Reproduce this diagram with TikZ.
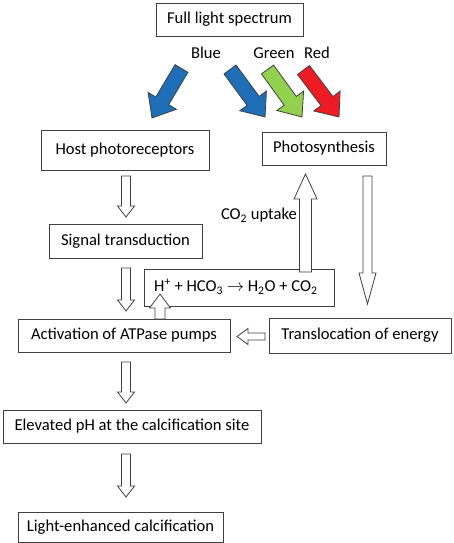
\documentclass[tikz,border=0pt]{standalone}
\usepackage{fontspec}
\setmainfont{Carlito}
\usepackage{tikz}
\usetikzlibrary{calc, positioning}
\definecolor{lineg}{RGB}{64,64,64}
\definecolor{lblue}{RGB}{30,110,184}
\definecolor{lgreen}{RGB}{146,208,80}
\definecolor{lred}{RGB}{237,28,36}
\tikzstyle{box}=[draw=lineg, line width=0.9pt, inner sep=0pt, font=\fontsize{16.6}{19}\selectfont]
\tikzstyle{lbl}=[inner sep=0pt, font=\fontsize{16.6}{19}\selectfont]
% block arrow: [fill] from, to, half shaft, half head, head length (in pt)
\newcommand{\blockarrow}[6][white]{%
\coordinate (ba-h) at ($(#3)!#6pt!(#2)$);
\draw[draw=lineg, line width=0.8pt, line join=miter, fill=#1] ($(#2)!#4pt!90:(#3)$) -- ($(ba-h)!#4pt!-90:(#2)$) -- ($(ba-h)!#5pt!-90:(#2)$) -- (#3) -- ($(ba-h)!#5pt!90:(#2)$) -- ($(ba-h)!#4pt!90:(#2)$) -- ($(#2)!#4pt!-90:(#3)$) -- cycle;}

\begin{document}
\begin{tikzpicture}[x=1pt, y=1pt]
\useasboundingbox (0,0) rectangle (454,-543);
% the boxes
\node[box, minimum width=147, minimum height=33] (full) at (229.5,-19.5) {Full light spectrum};
\node[box, minimum width=168, minimum height=40] (host) at (125,-150) {Host photoreceptors};
\node[box, minimum width=124, minimum height=33] (photo) at (324,-148.5) {Photosynthesis};
\node[box, minimum width=153, minimum height=34] (signal) at (125.5,-241) {Signal transduction};
\node[box, minimum width=190, minimum height=37] (react) at (239,-287.5) {};
\node[lbl, anchor=west] (eqn) at (154,-287) {H\textsuperscript{+} + HCO\textsubscript{3} $\rightarrow$ H\textsubscript{2}O + CO\textsubscript{2}};
\node[box, minimum width=212, minimum height=33] (atpase) at (124,-335.5) {Activation of ATPase pumps};
\node[box, minimum width=182, minimum height=35] (transl) at (360,-335.5) {Translocation of energy};
\node[box, minimum width=258, minimum height=33] (elev) at (132,-426.5) {Elevated pH at the calcification site};
\node[box, minimum width=205, minimum height=30] (calc) at (120.5,-527) {Light-enhanced calcification};
% the labels
\node[lbl] (blue) at (206,-53) {Blue};
\node[lbl] (green) at (274,-53) {Green};
\node[lbl] (red) at (317,-53) {Red};
\node[lbl, anchor=east] (uptake) at (297,-215) {CO\textsubscript{2} uptake};
% the ends of the arrows
\coordinate (b1s) at (181.5,-68.5); \coordinate (b1e) at (152,-118);
\coordinate (b2s) at (230,-69.5); \coordinate (b2e) at (265,-117);
\coordinate (b3s) at (267.5,-69.5); \coordinate (b3e) at (302,-117);
\coordinate (b4s) at (303.5,-70); \coordinate (b4e) at (339,-117);
\coordinate (a1s) at (126,-176); \coordinate (a1e) at (126,-217);
\coordinate (a2s) at (126,-268); \coordinate (a2e) at (126,-311);
\coordinate (a3s) at (126,-362); \coordinate (a3e) at (126,-403);
\coordinate (a4s) at (126,-454); \coordinate (a4e) at (126,-497);
\coordinate (a5s) at (160,-319); \coordinate (a5e) at (160,-294);
\coordinate (a6s) at (305.5,-272); \coordinate (a6e) at (305.5,-174);
\coordinate (a7s) at (367.5,-176); \coordinate (a7e) at (367.5,-304);
\coordinate (a8s) at (265,-336.5); \coordinate (a8e) at (237,-336.5);
% the coloured arrows
\blockarrow[lblue]{b1s}{b1e}{7.5}{16.5}{20}
\blockarrow[lblue]{b2s}{b2e}{7.5}{16.5}{20}
\blockarrow[lgreen]{b3s}{b3e}{7.5}{16.5}{20}
\blockarrow[lred]{b4s}{b4e}{7.5}{16.5}{20}
% the white arrows
\blockarrow{a1s}{a1e}{4.5}{8.5}{11}
\blockarrow{a2s}{a2e}{4.5}{8.5}{11}
\blockarrow{a3s}{a3e}{4.5}{8.5}{11}
\blockarrow{a4s}{a4e}{4.5}{8.5}{11}
\blockarrow{a5s}{a5e}{5}{10.5}{14}
\blockarrow{a6s}{a6e}{6}{11.5}{25}
\blockarrow{a7s}{a7e}{4.5}{8.5}{31}
\blockarrow{a8s}{a8e}{3.5}{8}{11}
\end{tikzpicture}
\end{document}
